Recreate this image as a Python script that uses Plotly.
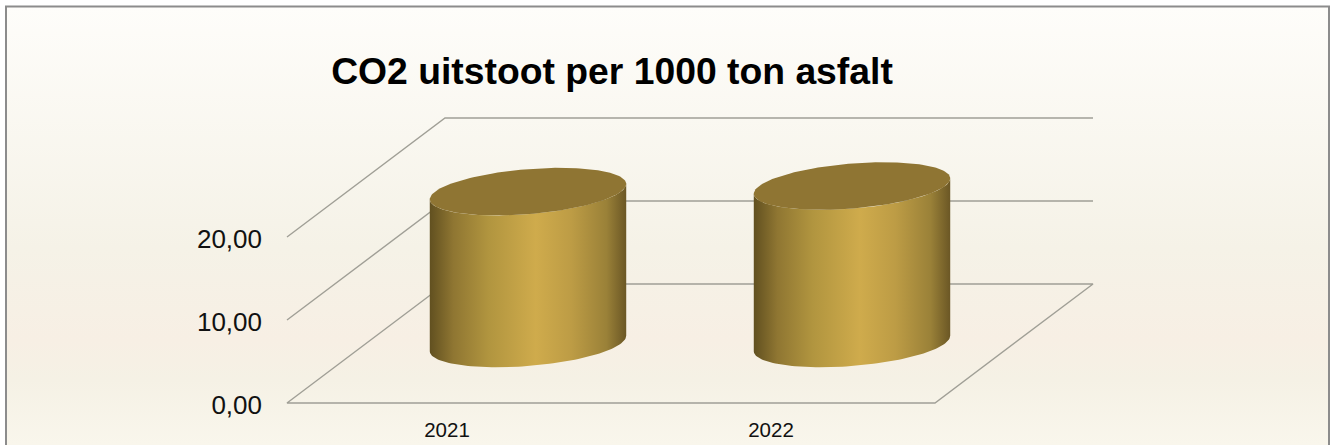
import numpy as np
import plotly.graph_objects as go

# Chart data
years = ["2021", "2022"]
co2_values = [18.3, 18.97]
value_ticks = [0, 10, 20]
value_tick_labels = ["0,00", "10,00", "20,00"]
title_text = "CO2 uitstoot per 1000 ton asfalt"

# Canvas and oblique projection settings
W, H = 1335, 445
ORIGIN_X, ORIGIN_Y = 449.0, 403.0     # pixel of the first category on the front edge, value 0
PX_PER_CAT = 324.0
PX_PER_VALUE = 8.3
DEPTH_DX, DEPTH_DY = 158.0, 119.0     # pixel shift from the front to the back of the floor
BAR_RADIUS_X = 93.0 / PX_PER_CAT
BAR_RADIUS_DEPTH = 0.2
BAR_DEPTH = 0.5

x_range = [-ORIGIN_X / PX_PER_CAT, (W - ORIGIN_X) / PX_PER_CAT]
y_range = [-(H - ORIGIN_Y) / PX_PER_VALUE, ORIGIN_Y / PX_PER_VALUE]


def project(cat, value, depth):
    """Map (category, value, depth) onto the 2D axes."""
    return (np.asarray(cat) + np.asarray(depth) * DEPTH_DX / PX_PER_CAT,
            np.asarray(value) + np.asarray(depth) * DEPTH_DY / PX_PER_VALUE)


def ellipse(cat, value, t):
    return project(cat + BAR_RADIUS_X * np.cos(t), value,
                   BAR_DEPTH + BAR_RADIUS_DEPTH * np.sin(t))


fig = go.Figure()

# Panel background with its soft vertical gradient
bg_x = [(7 - ORIGIN_X) / PX_PER_CAT, (1328 - ORIGIN_X) / PX_PER_CAT]
bg_y = [y_range[0], (ORIGIN_Y - 7) / PX_PER_VALUE]
fig.add_trace(go.Scatter(
    x=[bg_x[0], bg_x[1], bg_x[1], bg_x[0], bg_x[0]],
    y=[bg_y[0], bg_y[0], bg_y[1], bg_y[1], bg_y[0]],
    mode="lines", line=dict(width=0), fill="toself",
    fillgradient=dict(
        type="vertical", start=bg_y[0], stop=bg_y[1],
        colorscale=[[0.0, "#f9f6ec"], [0.15, "#f5f1e5"], [0.24, "#f7efe4"],
                    [0.45, "#f5f2e7"], [1.0, "#fefdfa"]]),
    hoverinfo="skip", showlegend=False))

# Floor and wall lines
grid_x, grid_y = [], []
for v in value_ticks:
    if v == 0:
        # floor outline
        lx, ly = project([-0.5, 1.5, 1.5, -0.5, -0.5], [0] * 5, [1, 1, 0, 0, 1])
    else:
        # side wall line running back, then along the back wall
        lx, ly = project([-0.5, -0.5, 1.5], [v] * 3, [0, 1, 1])
    grid_x += list(lx) + [None]
    grid_y += list(ly) + [None]
fig.add_trace(go.Scatter(x=grid_x, y=grid_y, mode="lines",
                         line=dict(color="#a09f96", width=1.4),
                         hoverinfo="skip", showlegend=False))

# Cylinders: side wall with a horizontal gradient, flat top cap
t0 = np.arctan2(BAR_RADIUS_DEPTH * DEPTH_DX / PX_PER_CAT, BAR_RADIUS_X)
for i, value in enumerate(co2_values):
    lower = np.linspace(t0, t0 - np.pi, 80)          # front half of the rim
    bx, by = ellipse(i, 0.0, lower)
    tx, ty = ellipse(i, value, lower[::-1])
    side_x = np.concatenate([bx, tx, bx[:1]])
    side_y = np.concatenate([by, ty, by[:1]])
    fig.add_trace(go.Scatter(
        x=side_x, y=side_y, mode="lines", line=dict(width=0), fill="toself",
        fillgradient=dict(
            type="horizontal", start=float(side_x.min()), stop=float(side_x.max()),
            colorscale=[[0.0, "#615020"], [0.12, "#8f7632"], [0.3, "#b1953f"],
                        [0.54, "#cfab4c"], [0.72, "#bd9c45"], [0.9, "#9a8138"],
                        [1.0, "#6b5725"]]),
        hoverinfo="skip", showlegend=False))
    full = np.linspace(0, 2 * np.pi, 160)
    cx, cy = ellipse(i, value, full)
    fig.add_trace(go.Scatter(
        x=cx, y=cy, mode="lines", line=dict(width=0), fill="toself",
        fillcolor="#8f7533", hoverinfo="skip", showlegend=False))

fig.update_layout(
    width=W, height=H,
    margin=dict(l=0, r=0, t=0, b=0),
    paper_bgcolor="white", plot_bgcolor="rgba(0,0,0,0)",
    showlegend=False,
    font=dict(family="Liberation Sans, Arial, sans-serif", color="#111111"),
    title=dict(text="<b>" + title_text + "</b>", x=612 / W, xanchor="center",
               y=1 - 71 / H, yanchor="middle",
               font=dict(size=37.3, color="#000000")),
    xaxis=dict(range=x_range, tickvals=[0, 1], ticktext=years,
               tickfont=dict(size=20.5), showgrid=False, zeroline=False,
               showline=False, ticks="", anchor="free",
               position=(H - ORIGIN_Y) / H, ticklabelstandoff=12,
               ticklabelshift=-2, fixedrange=True),
    yaxis=dict(range=y_range, tickvals=value_ticks, ticktext=value_tick_labels,
               tickfont=dict(size=26), showgrid=False, zeroline=False,
               showline=False, ticks="", anchor="free",
               position=(ORIGIN_X - 0.5 * PX_PER_CAT) / W, ticklabelstandoff=25,
               ticklabelshift=2, fixedrange=True),
    shapes=[
        dict(type="line", xref="paper", yref="paper",
             x0=6 / W, x1=6 / W, y0=0, y1=1 - 6 / H,
             line=dict(color="#8c8c8c", width=2)),
        dict(type="line", xref="paper", yref="paper",
             x0=5 / W, x1=1330 / W, y0=1 - 6.5 / H, y1=1 - 6.5 / H,
             line=dict(color="#8c8c8c", width=2)),
        dict(type="line", xref="paper", yref="paper",
             x0=1329 / W, x1=1329 / W, y0=0, y1=1 - 6 / H,
             line=dict(color="#8c8c8c", width=2)),
    ],
)

fig.write_html("out.html", config=dict(displayModeBar=False))
